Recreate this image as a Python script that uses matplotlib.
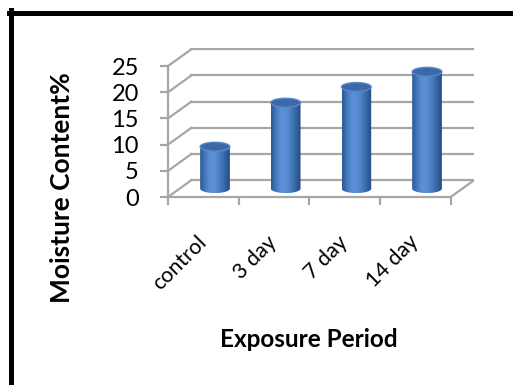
import numpy as np
import matplotlib
matplotlib.use('Agg')
import matplotlib.pyplot as plt
from matplotlib.colors import LinearSegmentedColormap
from matplotlib.patches import Ellipse, Polygon
from matplotlib.lines import Line2D
from matplotlib.transforms import ScaledTranslation

categories = ['control', '3 day', '7 day', '14 day']
moisture = [8.0, 16.4, 19.4, 22.3]
y_ticks = [0, 5, 10, 15, 20, 25]

plt.rcParams['font.family'] = ['Lato', 'DejaVu Sans']

fig = plt.figure(figsize=(5.13, 3.85), dpi=100)
ax = fig.add_axes([0.3275, 0.4883, 0.5965, 0.387])

n = len(categories)
dx, dy = 0.33, 3.2          # depth of the fake 3d box (x units, value units)
bw, eh = 0.42, 1.7          # cylinder width, ellipse height
wall = '#a6a6a6'
lw = 1.6

# back wall grid and left wall diagonals
for v in y_ticks:
    ax.plot([dx, n + dx], [v + dy, v + dy], color=wall, lw=lw, zorder=1)
    ax.plot([0, dx], [v, v + dy], color=wall, lw=lw, zorder=1)
# floor right edge
ax.plot([n, n + dx], [0, dy], color=wall, lw=lw, zorder=1)

# cylinders
cyl_cmap = LinearSegmentedColormap.from_list(
    'cyl', ['#2b5892', '#4479bd', '#5a90d6', '#5b8fd3', '#4a7dc0', '#3565a3', '#234a80'])
grad = np.linspace(0, 1, 128).reshape(1, -1)
t = np.linspace(0, np.pi, 60)
for i, v in enumerate(moisture):
    cx = i + 0.5 + dx / 2
    x0, x1 = cx - bw / 2, cx + bw / 2
    base, top = dy / 2, v + dy / 2
    arc = np.column_stack([cx - bw / 2 * np.cos(t), base - eh / 2 * np.sin(t)])
    verts = np.vstack([[[x0, top]], arc, [[x1, top]]])
    body = Polygon(verts, closed=True, transform=ax.transData)
    im = ax.imshow(grad, cmap=cyl_cmap, extent=(x0, x1, base - eh / 2, top),
                   aspect='auto', interpolation='bicubic', zorder=3)
    im.set_clip_path(body)
    ax.add_patch(Ellipse((cx, top), bw, eh, facecolor='#3b68a8',
                         edgecolor='#5a88c8', lw=1.0, zorder=4))

ax.set_xlim(0, n + dx)
ax.set_ylim(0, 28.44)

for s in ['top', 'right']:
    ax.spines[s].set_visible(False)
ax.spines['left'].set_bounds(0, 25)
ax.spines['bottom'].set_bounds(0, n)
for s in ['left', 'bottom']:
    ax.spines[s].set_color(wall)
    ax.spines[s].set_linewidth(lw)

ax.set_yticks(y_ticks)
ax.tick_params(axis='y', length=6, width=lw, color=wall, labelsize=17, pad=15)
ax.set_xticks(np.arange(n + 1))
ax.set_xticklabels([])
ax.tick_params(axis='x', which='major', length=6, width=lw, color=wall)
ax.set_xticks(np.arange(n) + 0.5, minor=True)
ax.set_xticklabels(categories, minor=True, rotation=45, ha='right',
                   rotation_mode='anchor', fontsize=15.5)
ax.tick_params(axis='x', which='minor', length=0, pad=25)
shift = ScaledTranslation(-7 / 100, 0, fig.dpi_scale_trans)
for lab in ax.get_xticklabels(minor=True):
    lab.set_transform(lab.get_transform() + shift)
ax.patch.set_visible(False)

fig.text(0.121, 0.512, 'Moisture Content%', rotation=90, ha='center', va='center',
         fontsize=19, fontweight='bold')
fig.text(0.602, 0.117, 'Exposure Period', ha='center', va='center',
         fontsize=17.5, fontweight='bold')

# black frame (left and top edges)
fig.add_artist(Line2D([0.0224, 0.0224], [0.974, 0], color='black', lw=3.6,
                      transform=fig.transFigure))
fig.add_artist(Line2D([0.0175, 1], [0.9675, 0.9675], color='black', lw=3.6,
                      transform=fig.transFigure))

fig.savefig('out.png', dpi=100)
